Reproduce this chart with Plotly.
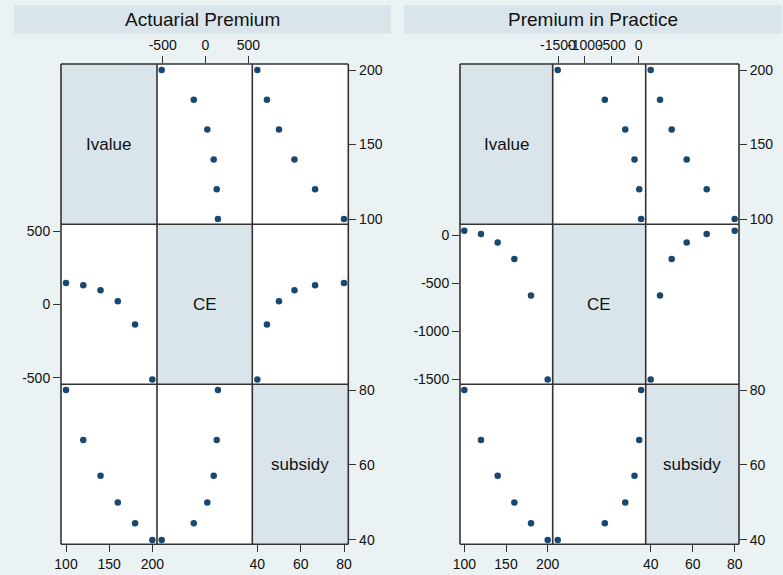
import plotly.graph_objects as go

# ---- data ----
ivalue = [100, 120, 140, 160, 180, 200]
subsidy = [80, 66.67, 57.14, 50, 44.44, 40]
ce_actuarial = [145, 131, 96, 21, -137, -512]
ce_practice = [45, 10, -78, -250, -630, -1505]

panel_titles = ["Actuarial Premium", "Premium in Practice"]
var_labels = ["Ivalue", "CE", "subsidy"]

ivalue_ticks = [100, 150, 200]
subsidy_ticks = [40, 60, 80]
ce_ticks_actuarial = [-500, 0, 500]
ce_ticks_practice = [-1500, -1000, -500, 0]

W, H = 783, 575
BG = "#EAF2F3"
DIAG = "#D9E5EA"
NAVY = "#1A476F"
LINE = "#333333"
FONT = "Liberation Sans, Arial, sans-serif"


def px(x):
    return x / W


def py(y):
    return 1 - y / H


panels = [
    dict(
        ce=ce_actuarial, ce_ticks=ce_ticks_actuarial, title=panel_titles[0],
        cols=[61, 157, 252.3, 348.3], rows=[64, 224.3, 384.3, 544.3],
        xr=[[94.2, 205.4], [-566.6, 546.7], [37.69, 81.98]],
        yr=[[96.44, 204.03], [-545, 545.7], [38.85, 81.52]],
        tbar=[14, 5, 391, 33.7],
    ),
    dict(
        ce=ce_practice, ce_ticks=ce_ticks_practice, title=panel_titles[1],
        cols=[460, 552.7, 645.7, 739], rows=[64, 224.3, 384.3, 544.3],
        xr=[[94.84, 206], [-1598.5, 130], [37.62, 82.05]],
        yr=[[96.44, 204.03], [-1555, 111.5], [38.85, 81.52]],
        tbar=[404, 5, 782, 33.7],
    ),
]

fig = go.Figure()
layout = {}
shapes = []
annotations = []
ax_i = 0

tickfont = dict(family=FONT, size=14, color="#111111")


def axname(prefix, n):
    return prefix if n == 1 else f"{prefix}{n}"


for p_i, p in enumerate(panels):
    vars_ = [ivalue, p["ce"], subsidy]
    ticks = [ivalue_ticks, p["ce_ticks"], subsidy_ticks]
    cols, rows = p["cols"], p["rows"]
    base = ax_i
    ax_i += 3
    # x axes (columns)
    for j in range(3):
        n = base + j + 1
        side = "top" if j == 1 else "bottom"
        anchor_row = 0 if j == 1 else 2
        layout["xaxis" if n == 1 else f"xaxis{n}"] = dict(
            domain=[px(cols[j]), px(cols[j + 1])],
            range=p["xr"][j],
            anchor=axname("y", base + anchor_row + 1),
            side=side, automargin=False, tickangle=0,
            showgrid=False, zeroline=False, showline=False,
            ticks="outside", ticklen=7, tickwidth=1.2, tickcolor=LINE,
            tickvals=ticks[j], ticktext=[str(v) for v in ticks[j]],
            tickfont=tickfont,
        )
    # y axes (rows)
    for i in range(3):
        n = base + i + 1
        side = "left" if i == 1 else "right"
        anchor_col = 0 if i == 1 else 2
        layout["yaxis" if n == 1 else f"yaxis{n}"] = dict(
            domain=[py(rows[i + 1]), py(rows[i])],
            range=p["yr"][i],
            anchor=axname("x", base + anchor_col + 1),
            side=side, automargin=False,
            showgrid=False, zeroline=False, showline=False,
            ticks="outside", ticklen=7, tickwidth=1.2, tickcolor=LINE,
            tickvals=ticks[i], ticktext=[str(v) for v in ticks[i]],
            tickfont=tickfont,
        )
    # cells
    for i in range(3):
        for j in range(3):
            shapes.append(dict(
                type="rect", xref="paper", yref="paper", layer="below",
                x0=px(cols[j]), x1=px(cols[j + 1]),
                y0=py(rows[i + 1]), y1=py(rows[i]),
                fillcolor=DIAG if i == j else "white",
                line=dict(width=0),
            ))
            if i == j:
                annotations.append(dict(
                    xref="paper", yref="paper",
                    x=px((cols[j] + cols[j + 1]) / 2),
                    y=py((rows[i] + rows[i + 1]) / 2),
                    xanchor="center", yanchor="middle",
                    text=var_labels[i], showarrow=False,
                    font=dict(family=FONT, size=17, color="#111111"),
                ))
            else:
                fig.add_trace(go.Scatter(
                    x=vars_[j], y=vars_[i], mode="markers",
                    xaxis=axname("x", base + j + 1),
                    yaxis=axname("y", base + i + 1),
                    showlegend=False, hoverinfo="x+y",
                    marker=dict(color=NAVY, size=6.5, line=dict(width=0)),
                    cliponaxis=False,
                ))
    # grid lines (borders)
    for c in cols:
        shapes.append(dict(type="line", xref="paper", yref="paper", layer="above",
                           x0=px(c), x1=px(c), y0=py(rows[0]), y1=py(rows[-1]),
                           line=dict(color=LINE, width=1.6)))
    for r in rows:
        shapes.append(dict(type="line", xref="paper", yref="paper", layer="above",
                           x0=px(cols[0]), x1=px(cols[-1]), y0=py(r), y1=py(r),
                           line=dict(color=LINE, width=1.6)))
    # title bar
    tb = p["tbar"]
    shapes.append(dict(type="rect", xref="paper", yref="paper", layer="below",
                       x0=px(tb[0]), x1=px(tb[2]), y0=py(tb[3]), y1=py(tb[1]),
                       fillcolor=DIAG, line=dict(width=0)))
    annotations.append(dict(
        xref="paper", yref="paper", x=px((tb[0] + tb[2]) / 2),
        y=py((tb[1] + tb[3]) / 2), xanchor="center", yanchor="middle",
        text=p["title"], showarrow=False,
        font=dict(family=FONT, size=19, color="#111111"),
    ))

fig.update_layout(
    width=W, height=H,
    margin=dict(l=0, r=0, t=0, b=0, autoexpand=False),
    paper_bgcolor=BG, plot_bgcolor="rgba(0,0,0,0)",
    shapes=shapes, annotations=annotations,
    **layout,
)

fig.write_html(
    "out.html",
    config={"displayModeBar": False},
    post_script="document.body.style.margin='0';"
                "document.body.style.background='" + BG + "';",
)
